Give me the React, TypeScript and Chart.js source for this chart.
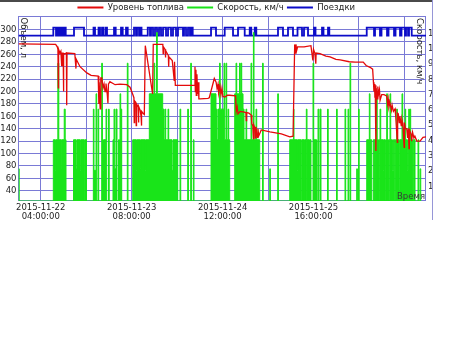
import React, { useEffect, useRef } from 'react';
import { Chart, registerables } from 'chart.js';

Chart.register(...registerables);

const FONT = '"DejaVu Sans", sans-serif';
const GRID = 'rgb(122,122,214)';
const TEXT = '#1e1e1e';

// x axis: hours since 2015-11-22 00:00
const xMinHour = -2.84;
const xMaxHour = 122.63;
const xTickHours = [4, 18, 32, 46, 60, 74, 88, 102, 116];
const xTickDates = ['2015-11-22', '', '2015-11-23', '', '2015-11-24', '', '2015-11-25', '', ''];
const xTickTimes = ['04:00:00', '', '08:00:00', '', '12:00:00', '', '16:00:00', '', ''];

const volumeTicks = [40, 60, 80, 100, 120, 140, 160, 180, 200, 220, 240, 260, 280, 300];
const speedTicks = [1, 2, 3, 4, 5, 6, 7, 8, 9, 10, 11];

const seriesNames = ['Уровень топлива', 'Скорость, км/ч', 'Поездки'];

// Fuel level, litres
const fuelHours = [
  -2.83, 8.6, 9.1, 9.3, 9.42, 9.5, 9.9, 10.2, 10.45, 10.55,
  10.9, 11.0, 11.1, 11.9, 12.0, 12.1, 14.5, 14.85, 14.95, 16.1,
  18.2, 19.5, 21.7, 21.9, 22.0, 22.3, 22.5, 22.8, 23.2, 23.5,
  23.8, 24.1, 24.5, 24.7, 24.85, 25.3, 26.9, 28.4, 30.5, 31.5,
  32.3, 32.7, 32.8, 32.9, 33.3, 33.4, 33.5, 34.0, 34.1, 34.2,
  34.6, 34.9, 35.0, 35.1, 35.5, 35.9, 36.2, 38.45, 38.65, 41.6,
  41.7, 41.8, 42.3, 42.4, 42.5, 43.3, 43.4, 43.5, 44.5, 45.1,
  45.2, 45.45, 51.3, 51.5, 51.6, 51.8, 51.9, 52.1, 52.3, 52.5,
  52.7, 53.1, 55.5, 55.9, 57.45, 58.0, 58.3, 58.6, 58.8, 59.2,
  59.5, 59.8, 60.1, 60.7, 61.5, 62.2, 64.0, 64.2, 64.5, 64.75,
  65.4, 66.3, 67.2, 67.3, 67.4, 68.1, 68.8, 69.0, 69.3, 69.5,
  69.6, 70.0, 70.1, 70.3, 70.6, 70.9, 71.1, 71.9, 74.6, 78.1,
  80.7, 81.7, 82.2, 82.4, 82.6, 82.8, 83.1, 85.1, 87.2, 87.8,
  88.0, 88.4, 88.7, 88.8, 90.0, 91.8, 93.1, 94.9, 96.2, 99.0,
  100.8, 103.3, 104.2, 105.4, 106.2, 106.45, 106.6, 106.8, 106.9, 107.0,
  107.2, 107.3, 107.6, 107.8, 108.0, 108.3, 108.5, 109.0, 109.7, 110.5,
  110.8, 111.0, 111.2, 111.5, 112.0, 112.2, 112.6, 113.1, 113.3, 113.8,
  113.9, 114.1, 114.4, 114.6, 115.0, 115.2, 115.5, 115.9, 116.0, 116.3,
  116.7, 117.0, 117.2, 117.4, 117.5, 118.0, 118.2, 118.5, 118.9, 119.2,
  119.8, 120.8, 121.7, 122.63,
];
const fuelLitres = [
  277, 276, 272, 268, 206, 268, 262, 265, 242, 262,
  262, 200, 260, 262, 178, 262, 261, 237, 252, 240,
  230, 226, 225, 180, 215, 172, 222, 222, 206, 212,
  200, 213, 195, 181, 212, 216, 211, 212, 211, 207,
  196, 190, 150, 185, 182, 145, 180, 175, 150, 176,
  170, 160, 145, 168, 165, 163, 274, 196, 276, 276,
  261, 272, 268, 255, 266, 258, 240, 256, 250, 218,
  248, 210, 210, 240, 200, 235, 194, 228, 196, 215,
  188, 188, 189, 190, 221, 215, 205, 212, 198, 208,
  195, 205, 192, 191, 194, 194, 193, 168, 175, 164,
  168, 167, 166, 153, 166, 165, 162, 148, 145, 124,
  146, 140, 124, 143, 126, 140, 128, 138, 135, 131.6,
  127, 128, 276, 262, 276, 266, 272, 272, 274, 250,
  268, 262, 245, 262, 261, 257, 256, 252, 251, 248,
  247.4, 247.4, 242, 239, 236, 215, 200, 212, 190, 210,
  104, 205, 188, 208, 195, 203, 186, 195, 195, 193,
  180, 188, 175, 182, 170, 178, 168, 172, 160, 118,
  165, 164, 150, 160, 145, 155, 148, 110, 150, 140,
  140, 125, 140, 108, 138, 132, 120, 134, 125, 128,
  120, 120, 126, 127,
];

// Speed, km/h (step series: each value holds until the next time)
const speedHours = [
  -2.84, -2.62,
  7.88, 8.5, 8.65, 9.27, 9.57, 10.3, 10.45, 11.24, 11.54, 11.79,
  14.10, 14.87, 15.12, 16.10, 16.29, 17.33, 17.52, 18.10,
  20.20, 20.41, 21.03, 21.24, 21.64, 21.86,
  22.78, 23.00, 23.34, 23.49, 24.11, 24.32,
  24.88, 25.09,
  26.26, 26.57, 26.78, 27.18, 27.49,
  27.95, 28.26, 28.42, 28.63, 28.72, 28.94,
  30.66, 30.88,
  32.33, 33.34, 33.50, 34.57, 34.73, 36.11, 36.27, 37.44, 38.89, 39.10,
  39.65, 39.90, 41.56, 41.96, 42.27, 42.49, 43.20, 43.41, 44.43, 44.73, 46.18,
  46.89, 47.11,
  49.26, 49.48,
  50.18, 50.40,
  50.99, 51.20,
  56.44, 57.97, 58.28, 58.59, 58.90, 59.05, 59.27, 60.44, 60.65, 61.05,
  61.27, 61.67, 61.88, 62.19,
  63.73, 64.13, 64.35, 65.21, 65.43, 65.67, 65.89, 66.29, 66.60, 67.21,
  67.43, 68.75, 68.97, 69.49, 69.68, 70.29, 70.51, 71.43,
  72.29, 72.51,
  74.51, 74.73,
  76.97, 77.19,
  80.67, 81.81, 81.99, 82.91, 83.07, 84.24, 84.45, 85.07, 85.22, 85.68,
  85.78, 85.99, 86.61, 86.76, 87.22, 87.84, 88.06, 88.77, 88.92, 89.08,
  89.38, 89.60,
  89.99, 90.30,
  92.30, 92.52,
  95.08, 95.29,
  97.69, 97.91,
  98.62, 98.83, 99.23, 99.45,
  101.29, 101.51, 101.85, 102.06,
  104.38, 105.18, 105.39, 105.92,
  106.41, 106.9, 107.05, 107.40, 107.61, 108.0, 108.2, 108.47, 108.69, 109.40,
  109.55, 110.0, 110.2, 110.53, 110.75, 111.1, 111.3, 111.55, 111.77, 112.3,
  112.6, 113.0, 113.2, 113.61, 113.83, 114.4, 114.6, 115.24, 115.46, 116.17,
  116.38, 116.9, 117.1, 117.31, 117.52, 117.71, 117.92, 118.5, 118.7, 119.25,
  120.17, 120.39,
  120.79, 121.01,
];
const speedKmh = [
  2.1, 0,
  4, 2, 4, 9, 4, 2.1, 4, 6, 4, 0,
  4, 2.1, 4, 2, 4, 0, 4, 0,
  6, 2, 7, 0, 6, 0,
  9, 4, 2, 4, 6, 0,
  6, 0,
  4, 6, 2.1, 6, 0,
  4, 0, 7, 0, 6, 0,
  9, 0,
  4, 2, 4, 2.1, 4, 2, 4, 7, 9, 7,
  11, 7, 6, 4, 6, 4, 6, 4, 2, 4, 0,
  6, 0,
  6, 0,
  9, 0,
  4, 0,
  7, 6, 4, 6, 4, 9, 6, 9, 4, 9,
  4, 6, 4, 0,
  7, 9, 7, 9, 7, 9, 7, 6, 4, 6,
  4, 9, 4, 11, 4, 6, 4, 0,
  9, 0,
  2.1, 0,
  7, 0,
  4, 6, 4, 2, 4, 0, 4, 0, 4, 0,
  6, 4, 0, 4, 0, 9, 4, 0, 4, 0,
  6, 0,
  6, 0,
  6, 0,
  6, 0,
  6, 0,
  6, 0, 9, 0,
  2.1, 0, 6, 0,
  4, 7, 4, 0,
  4, 0, 4, 7, 4, 0, 4, 6, 4, 2,
  4, 0, 4, 7, 4, 0, 4, 7, 4, 2,
  4, 0, 4, 6, 4, 0, 4, 7, 4, 6,
  4, 2, 4, 6, 4, 6, 4, 0, 4, 0,
  4, 0,
  2.1, 0,
];

// Trips (step series)
const tripHours = [
  -2.84,
  7.88, 8.71, 8.86, 9.33, 9.48, 9.94, 10.10, 10.56, 10.71, 11.17, 11.33, 11.70,
  14.25, 17.33, 20.26, 20.72, 21.80, 22.26, 22.87, 23.27, 23.95, 24.41,
  26.57, 27.09, 28.72, 29.25, 30.26, 30.79,
  32.73, 33.34, 33.65, 34.27, 34.57, 35.04,
  36.95, 37.65, 37.96, 38.58, 39.19, 39.81, 40.42, 41.04, 41.66, 42.58,
  43.20, 44.12, 44.73, 45.66, 46.27, 47.81, 48.12, 48.74, 49.35, 49.96, 50.28, 50.80,
  56.44, 57.97, 60.65, 63.21, 64.75, 66.81, 68.35, 68.84, 69.89, 70.38,
  77.06, 78.60, 80.14, 81.68, 83.07, 84.45, 85.07, 86.30, 88.15, 88.61,
  90.61, 91.07, 92.46, 92.86,
  104.38, 106.63, 106.93, 108.47, 108.93, 110.63, 111.09, 112.79, 113.25, 114.63,
  115.09, 116.17, 116.48, 117.10, 117.40, 118.23,
  122.63,
];
const tripLevels = [
  290,
  303, 290, 303, 290, 303, 290, 303, 290, 303, 290, 303, 290,
  303, 290, 303, 290, 303, 290, 303, 290, 303, 290,
  303, 290, 303, 290, 303, 290,
  303, 290, 303, 290, 303, 290,
  303, 290, 303, 290, 303, 290, 303, 290, 303, 290,
  303, 290, 303, 290, 303, 290, 303, 290, 303, 290, 303, 290,
  303, 290, 303, 290, 303, 290, 303, 290, 303, 290,
  303, 290, 303, 290, 303, 290, 303, 290, 303, 290,
  303, 290, 303, 290,
  303, 290, 303, 290, 303, 290, 303, 290, 303, 290,
  303, 290, 303, 290, 303, 290,
  290,
];

const zip = (xs: number[], ys: number[]) => xs.map((x, i) => ({ x, y: ys[i] }));

const legendFitPatch = {
  id: 'legendFitPatch',
  beforeLayout(chart: any) {
    const lg = chart.legend;
    if (lg && !lg.__patched) {
      const orig = lg.fit.bind(lg);
      lg.fit = function () {
        orig();
        this.height = Math.max(0, this.height - 5.25);
      };
      lg.__patched = true;
    }
  },
};

const frameAndTitles = {
  id: 'frameAndTitles',
  beforeDatasetsDraw(chart: any) {
    const { ctx, chartArea: a } = chart;
    ctx.save();
    ctx.strokeStyle = GRID;
    ctx.lineWidth = 1;
    const x0 = Math.floor(a.left) + 0.5;
    const y0 = Math.floor(a.top) + 0.5;
    const x1 = Math.ceil(a.right) - 0.5;
    const y1 = Math.ceil(a.bottom) - 0.5;
    ctx.strokeRect(x0, y0, x1 - x0, y1 - y0);

    ctx.fillStyle = TEXT;
    ctx.font = `8.5px ${FONT}`;
    ctx.textBaseline = 'middle';
    ctx.textAlign = 'left';
    ctx.save();
    ctx.translate(a.left + 5, a.top + 1);
    ctx.rotate(Math.PI / 2);
    ctx.fillText('Объем, л', 0, 0);
    ctx.restore();
    ctx.save();
    ctx.translate(a.right - 6.5, a.top + 1.5);
    ctx.rotate(Math.PI / 2);
    ctx.fillText('Скорость, км/ч', 0, 0);
    ctx.restore();
    ctx.restore();
  },
  afterDatasetsDraw(chart: any) {
    const { ctx, chartArea: a } = chart;
    ctx.save();
    ctx.font = `8.5px ${FONT}`;
    ctx.textBaseline = 'middle';
    ctx.textAlign = 'right';
    ctx.fillStyle = '#3a3a3a';
    ctx.fillText('Время', a.right - 1, a.bottom - 4.5);
    ctx.restore();
  },
  afterDraw(chart: any) {
    const { ctx } = chart;
    ctx.save();
    ctx.fillStyle = '#4a4a4a';
    ctx.fillRect(0, 0, 433, 2);
    ctx.strokeStyle = 'rgb(150,150,215)';
    ctx.lineWidth = 1;
    ctx.beginPath();
    ctx.moveTo(432.5, 0);
    ctx.lineTo(432.5, 220);
    ctx.stroke();
    ctx.restore();
  },
};

export default function App() {
  const canvasRef = useRef<HTMLCanvasElement | null>(null);

  useEffect(() => {
    const canvas = canvasRef.current;
    if (!canvas) return;
    const tickFont = { family: FONT, size: 8.5 };
    const chart = new Chart(canvas, {
      type: 'line',
      data: {
        datasets: [
          {
            label: seriesNames[0],
            data: zip(fuelHours, fuelLitres),
            yAxisID: 'y',
            borderColor: 'rgb(228,10,10)',
            backgroundColor: 'rgb(228,10,10)',
            borderWidth: 1.3,
            pointRadius: 0,
            fill: false,
            tension: 0,
          },
          {
            label: seriesNames[1],
            data: zip(speedHours, speedKmh),
            yAxisID: 'y1',
            borderColor: 'rgb(25,228,25)',
            backgroundColor: 'rgb(25,228,25)',
            borderWidth: 1,
            pointRadius: 0,
            stepped: true,
            fill: 'origin',
          },
          {
            label: seriesNames[2],
            data: zip(tripHours, tripLevels),
            yAxisID: 'y',
            borderColor: 'rgb(12,12,200)',
            backgroundColor: 'rgb(12,12,200)',
            borderWidth: 1.8,
            pointRadius: 0,
            stepped: true,
            fill: false,
          },
        ],
      },
      options: {
        responsive: false,
        animation: false,
        devicePixelRatio: 1,
        layout: { padding: { left: 0, right: 19.5, top: 0, bottom: 0 } },
        plugins: {
          tooltip: { enabled: false },
          legend: {
            position: 'top',
            labels: {
              boxWidth: 26,
              boxHeight: 2,
              padding: 3.25,
              color: TEXT,
              font: tickFont,
              generateLabels: (c: any) =>
                c.data.datasets.map((ds: any, i: number) => ({
                  text: ds.label,
                  fillStyle: ds.borderColor,
                  strokeStyle: ds.borderColor,
                  lineWidth: 0,
                  hidden: false,
                  datasetIndex: i,
                  fontColor: TEXT,
                })),
            },
          },
        },
        scales: {
          x: {
            type: 'linear',
            min: xMinHour,
            max: xMaxHour,
            afterBuildTicks: (s: any) => {
              s.ticks = xTickHours.map((v) => ({ value: v }));
            },
            afterFit: (s: any) => {
              s.height = 137;
            },
            grid: { color: GRID, lineWidth: 1, drawTicks: false },
            border: { display: false },
            ticks: {
              autoSkip: false,
              maxRotation: 0,
              minRotation: 0,
              padding: 2,
              color: TEXT,
              font: { family: FONT, size: 8.5, lineHeight: 1.08 },
              callback: (_v: any, i: number) =>
                xTickDates[i] ? [xTickDates[i], xTickTimes[i]] : '',
            },
          },
          y: {
            position: 'left',
            min: 23.4,
            max: 321,
            afterBuildTicks: (s: any) => {
              s.ticks = volumeTicks.map((v) => ({ value: v }));
            },
            afterFit: (s: any) => {
              s.width = 18.5;
            },
            grid: { color: GRID, lineWidth: 1, drawTicks: false },
            border: { display: false },
            ticks: { padding: 2, color: TEXT, font: tickFont },
          },
          y1: {
            position: 'right',
            min: 0,
            max: 12.05,
            afterBuildTicks: (s: any) => {
              s.ticks = speedTicks.map((v) => ({ value: v }));
            },
            afterFit: (s: any) => {
              s.width = 6.5;
            },
            grid: { drawOnChartArea: false, drawTicks: false },
            border: { display: false },
            ticks: { padding: 2, color: TEXT, font: tickFont, labelOffset: 0.8 },
          },
        },
      },
      plugins: [legendFitPatch, frameAndTitles],
    } as any);
    return () => chart.destroy();
  }, []);

  return (
    <div style={{ position: 'absolute', left: 0, top: 0, width: 452, height: 338, background: '#fff' }}>
      <canvas ref={canvasRef} width={452} height={338} style={{ display: 'block' }} />
    </div>
  );
}
